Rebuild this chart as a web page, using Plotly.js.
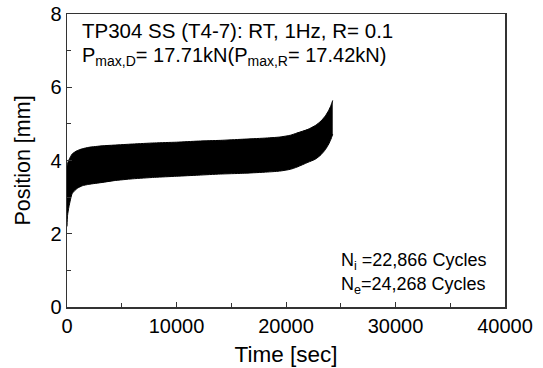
<!DOCTYPE html>
<html>
<head>
<meta charset="utf-8">
<script src="https://cdn.plot.ly/plotly-3.0.1.min.js"></script>
<style>html,body{margin:0;padding:0;background:#fff;}#chart{width:543px;height:368px;}</style>
</head>
<body>
<div id="chart"></div>
<script>
// Time [sec]
const time = [0, 50, 180, 480, 940, 1400, 2000, 3200, 4300, 6000, 8000, 10000, 12000, 14000, 16000, 18000, 19400, 20400, 21000, 22000, 22700, 23200, 23600, 23900, 24100, 24268];
// Upper envelope of position [mm]
const upper = [3.85, 3.92, 4.02, 4.18, 4.27, 4.32, 4.36, 4.40, 4.42, 4.45, 4.48, 4.50, 4.53, 4.55, 4.58, 4.61, 4.64, 4.69, 4.75, 4.85, 4.96, 5.08, 5.22, 5.37, 5.50, 5.64];
// Lower envelope of position [mm]
const lower = [2.20, 2.50, 2.74, 3.10, 3.24, 3.31, 3.35, 3.40, 3.45, 3.50, 3.54, 3.57, 3.60, 3.63, 3.65, 3.68, 3.71, 3.76, 3.82, 3.95, 4.04, 4.16, 4.30, 4.45, 4.58, 4.72];

const xTicks = [0, 10000, 20000, 30000, 40000];
const yTicks = [0, 2, 4, 6, 8];

const FONT = 'Liberation Sans, Arial, sans-serif';

const traces = [
  {x: time, y: lower, mode: 'lines', line: {color: '#000', width: 1, shape: 'spline', smoothing: 0.6}, showlegend: false, hoverinfo: 'skip'},
  {x: time, y: upper, mode: 'lines', fill: 'tonexty', fillcolor: '#000', line: {color: '#000', width: 1, shape: 'spline', smoothing: 0.6}, showlegend: false, hoverinfo: 'skip'}
];

const axisCommon = {
  showgrid: false, zeroline: false, showline: true, mirror: true,
  linecolor: '#333', linewidth: 1.5,
  ticks: 'inside', ticklen: 5, tickwidth: 1, tickcolor: '#333',
  tickfont: {family: FONT, size: 20, color: '#000'}
};

const layout = {
  width: 543, height: 368,
  margin: {l: 67, r: 38, t: 14, b: 61},
  paper_bgcolor: '#fff', plot_bgcolor: '#fff',
  font: {family: FONT, color: '#000'},
  xaxis: Object.assign({}, axisCommon, {
    range: [0, 40000], tickvals: xTicks, ticktext: xTicks.map(String),
    minor: {ticks: 'inside', ticklen: 4, tickwidth: 1, tickcolor: '#333', dtick: 5000},
    title: {text: 'Time [sec]', font: {family: FONT, size: 22.5, color: '#000'}, standoff: 10}
  }),
  yaxis: Object.assign({}, axisCommon, {
    range: [0, 8], tickvals: yTicks, ticktext: yTicks.map(String),
    minor: {ticks: 'inside', ticklen: 4, tickwidth: 1, tickcolor: '#333', dtick: 1},
    title: {text: 'Position [mm]', font: {family: FONT, size: 21.5, color: '#000'}, standoff: 14}
  }),
  annotations: [
    {xref: 'paper', yref: 'paper', x: 0.03, y: 0.944, xanchor: 'left', yanchor: 'middle', showarrow: false,
     text: 'TP304 SS (T4-7): RT, 1Hz, R= 0.1', font: {family: FONT, size: 20.5, color: '#000'}},
    {xref: 'paper', yref: 'paper', x: 0.03, y: 0.855, xanchor: 'left', yanchor: 'middle', showarrow: false,
     text: 'P<sub>max,D</sub>= 17.71kN(P<sub>max,R</sub>= 17.42kN)', font: {family: FONT, size: 20, color: '#000'}},
    {xref: 'paper', yref: 'paper', x: 0.62, y: 0.155, xanchor: 'left', yanchor: 'middle', showarrow: false,
     text: 'N<sub>i</sub> =22,866 Cycles', font: {family: FONT, size: 18, color: '#000'}},
    {xref: 'paper', yref: 'paper', x: 0.62, y: 0.075, xanchor: 'left', yanchor: 'middle', showarrow: false,
     text: 'N<sub>e</sub>=24,268 Cycles', font: {family: FONT, size: 18, color: '#000'}}
  ]
};

Plotly.newPlot('chart', traces, layout, {staticPlot: true, displayModeBar: false});
</script>
</body>
</html>
